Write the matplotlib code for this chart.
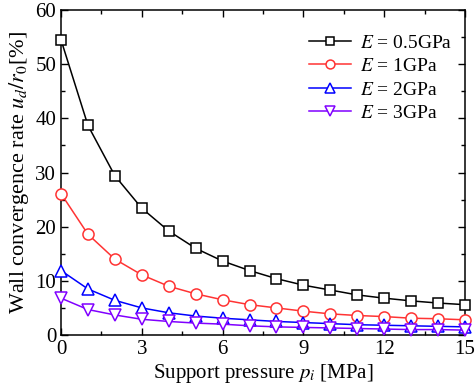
import matplotlib
matplotlib.use("Agg")
import matplotlib.pyplot as plt
import numpy as np
from matplotlib.ticker import MultipleLocator

plt.rcParams['font.family'] = ['Liberation Serif', 'DejaVu Serif']
plt.rcParams['mathtext.fontset'] = 'stix'

p = list(range(16))
e05 = [54.5, 38.7, 29.4, 23.4, 19.2, 16.0, 13.65, 11.9, 10.4, 9.2, 8.3, 7.4, 6.8, 6.3, 5.9, 5.6]
e1 = [26.1, 18.6, 14.0, 11.1, 9.0, 7.6, 6.5, 5.6, 5.0, 4.4, 3.9, 3.6, 3.4, 3.1, 3.0, 2.8]
e2 = [11.9, 8.5, 6.4, 5.0, 4.1, 3.5, 3.1, 2.8, 2.5, 2.3, 2.1, 1.9, 1.8, 1.7, 1.6, 1.5]
e3 = [6.8, 4.7, 3.7, 2.9, 2.5, 2.2, 2.0, 1.7, 1.5, 1.4, 1.3, 1.2, 1.1, 1.0, 1.0, 0.9]
labels = ['$E$ = 0.5GPa', '$E$ = 1GPa', '$E$ = 2GPa', '$E$ = 3GPa']

fig = plt.figure(figsize=(4.77, 3.92), dpi=100)
ax = fig.add_axes([61/477, 1-335/392, (465-61)/477, (335-10)/392])

styles = [('black', 's', 7.5), ('#ff3333', 'o', 8), ('#0000ff', '^', 8.5), ('#8000ff', 'v', 8.5)]
for ys, lab, (c, m, ms) in zip([e05, e1, e2, e3], labels, styles):
    ax.plot(p, ys, color=c, marker=m, markersize=ms, markerfacecolor='white',
            markeredgecolor=c, markeredgewidth=1.1, linewidth=1.1, label=lab, clip_on=False, zorder=3)

ax.set_xlim(0, 15)
ax.set_ylim(0, 60)
ax.xaxis.set_major_locator(MultipleLocator(3))
ax.xaxis.set_minor_locator(MultipleLocator(1.5))
ax.yaxis.set_major_locator(MultipleLocator(10))
ax.yaxis.set_minor_locator(MultipleLocator(5))
ax.tick_params(which='both', direction='in', top=True, right=True, labelsize=15)
ax.tick_params(which='major', length=5, width=1)
ax.tick_params(which='minor', length=3, width=1)
for s in ax.spines.values():
    s.set_linewidth(1.1)

ax.set_xlabel('Support pressure $p_i$ [MPa]', fontsize=15, labelpad=2)
ax.set_ylabel('Wall convergence rate $u_d/r_0$[%]', fontsize=16, labelpad=3)

ax.legend(loc='upper right', bbox_to_anchor=(0.987, 0.95), frameon=False, fontsize=14,
          handlelength=2.15, borderaxespad=0.0, labelspacing=0.3, handletextpad=0.45,
          markerscale=0.8)

fig.savefig('out.png', dpi=100)
